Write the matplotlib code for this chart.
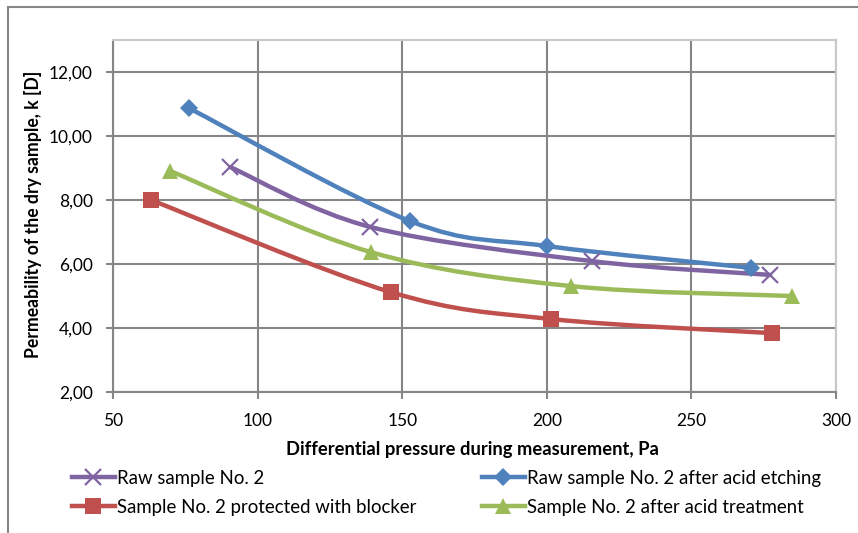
import numpy as np
import matplotlib
matplotlib.use("Agg")
import matplotlib.pyplot as plt
from matplotlib.path import Path
from matplotlib.patches import PathPatch, Rectangle
from matplotlib.lines import Line2D
from matplotlib.ticker import FuncFormatter

# values
raw_x = [90.5, 138.9, 215.6, 277.2]
raw_k = [9.03, 7.16, 6.09, 5.66]
etched_x = [76.3, 152.7, 200.1, 270.6]
etched_k = [10.87, 7.34, 6.56, 5.88]
blocker_x = [63.1, 146.1, 201.5, 277.9]
blocker_k = [8.00, 5.12, 4.28, 3.84]
treated_x = [69.7, 139.2, 208.4, 284.8]
treated_k = [8.91, 6.37, 5.31, 5.00]

labels = ["Raw sample No. 2", "Raw sample No. 2 after acid etching",
          "Sample No. 2 protected with blocker", "Sample No. 2 after acid treatment"]
x_ticks = [50, 100, 150, 200, 250, 300]
y_ticks = [2, 4, 6, 8, 10, 12]

plt.rcParams['font.family'] = ['Lato', 'DejaVu Sans']

grid_c = '#868686'
light_c = '#c8c8c8'


def smooth_path(xs, ys, t=1/6):
    # Excel-like smoothed line: cubic bezier through the points
    p = np.column_stack([xs, ys]).astype(float)
    n = len(p)
    verts = [p[0]]
    codes = [Path.MOVETO]
    for i in range(n - 1):
        p0 = p[i - 1] if i > 0 else p[i]
        p3 = p[i + 2] if i + 2 < n else p[i + 1]
        c1 = p[i] + (p[i + 1] - p0) * t
        c2 = p[i + 1] - (p3 - p[i]) * t
        verts += [c1, c2, p[i + 1]]
        codes += [Path.CURVE4] * 3
    return Path(verts, codes)


fig = plt.figure(figsize=(8.58, 5.33), dpi=100)
ax = fig.add_axes([113/858, 1 - 392/533, (836 - 113)/858, (392 - 40)/533])

series = [
    (raw_x, raw_k, '#8064a2', dict(marker='x', ms=11, mew=1.6)),
    (etched_x, etched_k, '#4f81bd', dict(marker='D', ms=9, mew=0)),
    (blocker_x, blocker_k, '#c0504d', dict(marker='s', ms=12, mew=0)),
    (treated_x, treated_k, '#9bbb59', dict(marker='^', ms=12, mew=0)),
]

handles = []
for (xs, ys, c, mk), lab in zip(series, labels):
    ax.add_patch(PathPatch(smooth_path(xs, ys), fill=False, edgecolor=c,
                           lw=3.2, capstyle='round', joinstyle='round', zorder=3))
    ax.plot(xs, ys, linestyle='none', color=c, zorder=4, **mk)
    handles.append(Line2D([], [], color=c, lw=3.2, **mk))

ax.set_xlim(50, 300)
ax.set_ylim(2, 13)
ax.set_xticks(x_ticks)
ax.set_yticks(y_ticks)
ax.yaxis.set_major_formatter(FuncFormatter(lambda v, p: f"{v:.2f}".replace('.', ',')))
ax.grid(True, color=grid_c, lw=1.5)
ax.set_axisbelow(True)
for s in ['top', 'right']:
    ax.spines[s].set_color(light_c)
    ax.spines[s].set_linewidth(1.5)
for s in ['left', 'bottom']:
    ax.spines[s].set_color(grid_c)
    ax.spines[s].set_linewidth(1.5)
ax.tick_params(direction='out', length=5, width=1.5, color=grid_c,
               labelsize=12.5, labelcolor='black')
ax.tick_params(axis='y', pad=9.5)
ax.tick_params(axis='x', pad=10)

fig.text(33/858, 1 - 214/533, "Permeability of the dry sample, k [D]",
         rotation=90, ha='center', va='center', fontsize=12.7, fontweight='bold')
fig.text(472/858, 1 - 449/533, "Differential pressure during measurement, Pa",
         ha='center', va='center', fontsize=13.2, fontweight='bold')

leg_kw = dict(frameon=False, fontsize=13.4, handlelength=2.3, handletextpad=0.1,
              labelspacing=0.62, borderaxespad=0, borderpad=0, loc='upper left')
fig.legend([handles[0], handles[2]], [labels[0], labels[2]],
           bbox_to_anchor=(72/858, 1 - 470/533), **leg_kw)
fig.legend([handles[1], handles[3]], [labels[1], labels[3]],
           bbox_to_anchor=(482/858, 1 - 470/533), **leg_kw)

fig.patches.append(Rectangle((8/858, -0.1), 2, 1 - 7/533 + 0.1,
                             transform=fig.transFigure, fill=False,
                             edgecolor=grid_c, lw=1.5))

fig.savefig("out.png", dpi=100)
